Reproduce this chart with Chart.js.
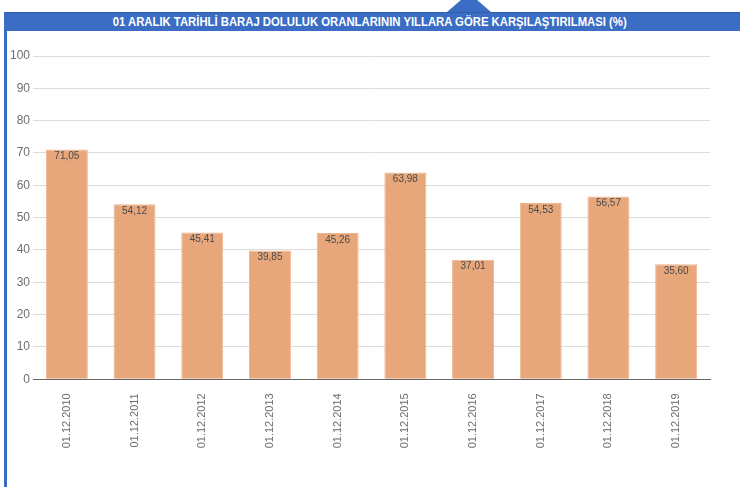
<!DOCTYPE html>
<html>
<head>
<meta charset="utf-8">
<script src="https://cdn.jsdelivr.net/npm/chart.js@4"></script>
<style>
  body { margin: 0; background: #fff; }
  #wrap { position: relative; width: 740px; height: 487px; overflow: hidden; }
  #tri { position: absolute; left: 447px; top: -7px; width: 0; height: 0;
         border-left: 22px solid transparent; border-right: 22px solid transparent;
         border-bottom: 19px solid #3a6dc3; }
  #bar { position: absolute; left: 4px; top: 12px; width: 736px; height: 19px;
         background: #3a6dc3; border-top: 1px solid #2f5ea9; box-sizing: border-box; }
  #side { position: absolute; left: 4px; top: 12px; width: 3px; height: 475px; background: #3a6dc3; }
  #title { position: absolute; left: 0; top: 13px; width: 740px; height: 18px;
           display: flex; align-items: center; justify-content: center;
           color: #fff; font: bold 12px Arial, "Liberation Sans", sans-serif; white-space: nowrap; }
  #title span { display: block; line-height: 18px; transform-origin: center; }
  canvas { position: absolute; left: 0; top: 0; }
</style>
</head>
<body>
<div id="wrap">
  <div id="tri"></div>
  <div id="bar"></div>
  <div id="side"></div>
  <div id="title"><span id="ttext">01 ARALIK TARİHLİ BARAJ DOLULUK ORANLARININ YILLARA GÖRE KARŞILAŞTIRILMASI (%)</span></div>
  <canvas id="chart" width="740" height="487"></canvas>
</div>
<script>
  // etiketler ve degerler
  labels = ['01.12.2010', '01.12.2011', '01.12.2012', '01.12.2013', '01.12.2014',
            '01.12.2015', '01.12.2016', '01.12.2017', '01.12.2018', '01.12.2019'];
  values = [71.05, 54.12, 45.41, 39.85, 45.26, 63.98, 37.01, 54.53, 56.57, 35.60];
  yTicks = [0, 10, 20, 30, 40, 50, 60, 70, 80, 90, 100];

  // baslik genisligini referansa uydur
  const t = document.getElementById('ttext');
  const w = t.getBoundingClientRect().width;
  t.style.transform = 'scaleX(' + (514 / w) + ')';

  const barLabels = {
    id: 'barLabels',
    afterDatasetsDraw(chart) {
      const ctx = chart.ctx;
      const meta = chart.getDatasetMeta(0);
      ctx.save();
      ctx.font = '10px Arial, "Liberation Sans", sans-serif';
      ctx.fillStyle = '#4a4a4a';
      ctx.textAlign = 'center';
      ctx.textBaseline = 'middle';
      meta.data.forEach((bar, i) => {
        ctx.fillText(values[i].toFixed(2).replace('.', ','), bar.x, bar.y + 7);
      });
      ctx.restore();
    }
  };

  new Chart(document.getElementById('chart'), {
    type: 'bar',
    data: {
      labels: labels,
      datasets: [{
        data: values,
        backgroundColor: '#e8a77b',
        borderColor: '#edb58f',
        borderWidth: 1,
        barPercentage: 0.62,
        categoryPercentage: 1
      }]
    },
    options: {
      responsive: false,
      animation: false,
      layout: { padding: { top: 56, left: 0, right: 30, bottom: 0 } },
      plugins: { legend: { display: false }, tooltip: { enabled: false } },
      scales: {
        y: {
          min: 0, max: 100,
          afterBuildTicks: (s) => { s.ticks = yTicks.map(v => ({ value: v })); },
          afterFit: (s) => { s.width = 33; },
          border: { display: false },
          grid: { color: '#dcdcdc', drawTicks: false },
          ticks: { padding: 3, color: '#6e6e6e', font: { family: 'Arial, "Liberation Sans", sans-serif', size: 12 } }
        },
        x: {
          afterFit: (s) => { s.height = 107.7; },
          border: { display: true, color: '#666' },
          grid: { display: false },
          ticks: { minRotation: 90, maxRotation: 90, padding: 6, color: '#6e6e6e',
                   font: { family: 'Arial, "Liberation Sans", sans-serif', size: 11 } }
        }
      }
    },
    plugins: [barLabels]
  });
</script>
</body>
</html>
